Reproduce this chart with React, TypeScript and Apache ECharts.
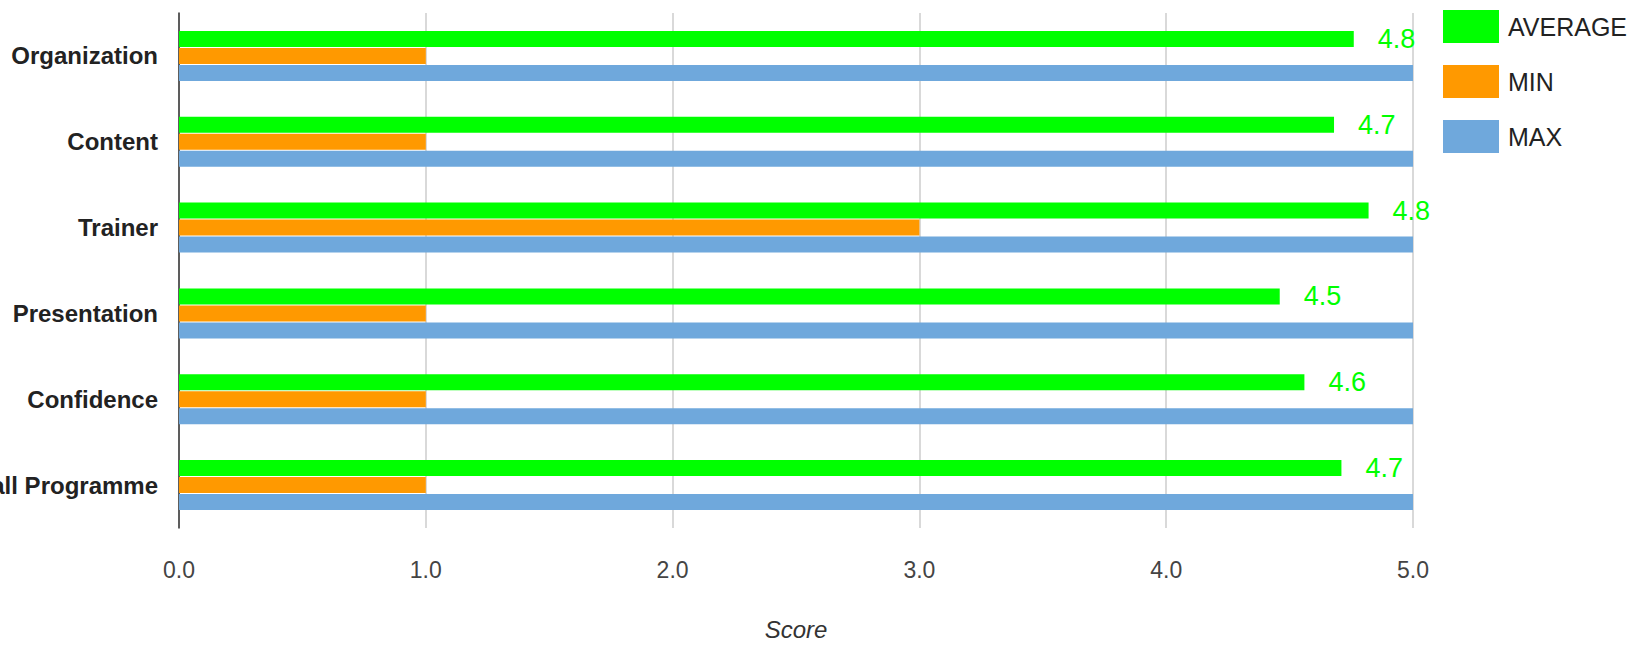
import React, { useEffect, useRef } from "react";
import * as echarts from "echarts";

const categories = ["Organization", "Content", "Trainer", "Presentation", "Confidence", "Overall Programme"];
const averageValues = [4.76, 4.68, 4.82, 4.46, 4.56, 4.71];
const minValues = [1, 1, 3, 1, 1, 1];
const maxValues = [5, 5, 5, 5, 5, 5];
const xTicks = [0, 1, 2, 3, 4, 5];

export default function App() {
  const ref = useRef<HTMLDivElement>(null);
  useEffect(() => {
    if (!ref.current) return;
    const chart = echarts.init(ref.current, undefined, { renderer: "svg" });
    const font = "Arial, 'Liberation Sans', sans-serif";
    chart.setOption({
      animation: false,
      backgroundColor: "#ffffff",
      grid: { left: 179, right: 232, top: 13, bottom: 118, containLabel: false, outerBoundsMode: "none" },
      legend: {
        orient: "vertical",
        left: 1443,
        top: 10,
        padding: 0,
        itemWidth: 56,
        itemHeight: 33,
        itemGap: 22,
        itemStyle: { borderWidth: 0 },
        icon: "rect",
        textStyle: { fontSize: 25, color: "#222", fontFamily: font, padding: [0, 0, 0, 4] },
        data: ["AVERAGE", "MIN", "MAX"],
      },
      xAxis: {
        type: "value",
        min: xTicks[0],
        max: xTicks[xTicks.length - 1],
        interval: 1,
        name: "Score",
        nameLocation: "middle",
        nameGap: 89,
        nameTextStyle: { fontSize: 24, fontStyle: "italic", color: "#333", fontFamily: font },
        axisLine: { show: false },
        axisTick: { show: false },
        axisLabel: {
          fontSize: 23,
          color: "#444",
          fontFamily: font,
          margin: 30,
          formatter: (v: number) => v.toFixed(1),
        },
        splitLine: { show: true, lineStyle: { color: "#cccccc", width: 1.5 } },
      },
      yAxis: {
        type: "category",
        data: categories,
        inverse: true,
        axisLine: { show: true, lineStyle: { color: "#333", width: 1.5 } },
        axisTick: { show: false },
        axisLabel: {
          fontSize: 24,
          fontWeight: "bold",
          color: "#222",
          fontFamily: font,
          margin: 21,
        },
        splitLine: { show: false },
      },
      series: [
        {
          name: "AVERAGE",
          type: "bar",
          data: averageValues,
          barWidth: 16,
          barGap: "6%",
          itemStyle: { color: "#00ff00" },
          label: {
            show: true,
            position: "right",
            distance: 24,
            color: "#00ff00",
            fontSize: 27,
            fontFamily: font,
            formatter: (p: any) => Number(p.value).toFixed(1),
          },
        },
        {
          name: "MIN",
          type: "bar",
          data: minValues,
          barWidth: 16,
          barGap: "6%",
          itemStyle: { color: "#ff9900" },
        },
        {
          name: "MAX",
          type: "bar",
          data: maxValues,
          barWidth: 16,
          barGap: "6%",
          itemStyle: { color: "#6fa8dc" },
        },
      ],
    });
    return () => chart.dispose();
  }, []);
  return (
    <div
      ref={ref}
      style={{ position: "fixed", left: 0, top: 0, width: 1645, height: 646 }}
    />
  );
}
